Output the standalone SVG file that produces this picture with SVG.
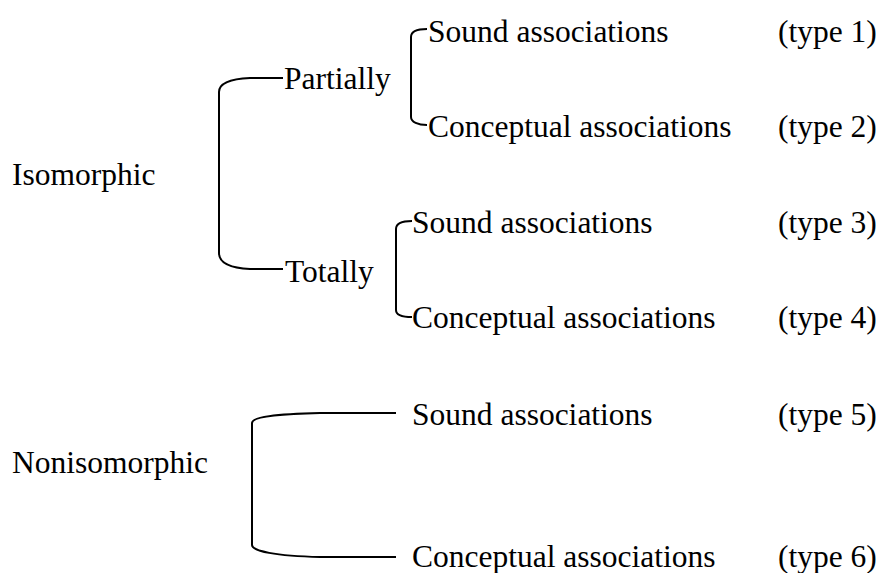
<svg xmlns="http://www.w3.org/2000/svg" width="883" height="573" viewBox="0 0 883 573">
<style>
.t{font-family:'Liberation Serif','Times New Roman','DejaVu Serif',serif;font-size:31.5px;fill:#000}
.c{fill:none;stroke:#000;stroke-width:2}
</style>
<rect width="883" height="573" fill="#fff"/>
<g id="connectors">
<path class="c" d="M283,78 L250,78 C229,79 219,84 219,92 V253 C219,262 229,268 250,269 H283"/>
<path class="c" d="M427,29 C418,29 411,31 411,37 V117 C411,122 418,125 427,125"/>
<path class="c" d="M412,221 C403,221 396,223 396,229 V310 C396,315 403,317 412,317"/>
<path class="c" d="M396,413 L320,413 C275,414 252,417 252,423 V545 C252,551 275,556 320,557 L396,557"/>
</g>
<g class="t">
<g id="isomorphic"><text x="12" y="185">Isomorphic</text></g>
<g id="partially"><text x="284" y="89">Partially</text></g>
<g id="totally"><text x="285" y="282">Totally</text></g>
<g id="nonisomorphic"><text x="12" y="473">Nonisomorphic</text></g>
<g id="type1"><text x="428" y="42">Sound associations</text><text x="778" y="42">(type 1)</text></g>
<g id="type2"><text x="428" y="137">Conceptual associations</text><text x="778" y="137">(type 2)</text></g>
<g id="type3"><text x="412" y="233">Sound associations</text><text x="778" y="233">(type 3)</text></g>
<g id="type4"><text x="412" y="328">Conceptual associations</text><text x="778" y="328">(type 4)</text></g>
<g id="type5"><text x="412" y="425">Sound associations</text><text x="778" y="425">(type 5)</text></g>
<g id="type6"><text x="412" y="567">Conceptual associations</text><text x="778" y="567">(type 6)</text></g>
</g>
</svg>
